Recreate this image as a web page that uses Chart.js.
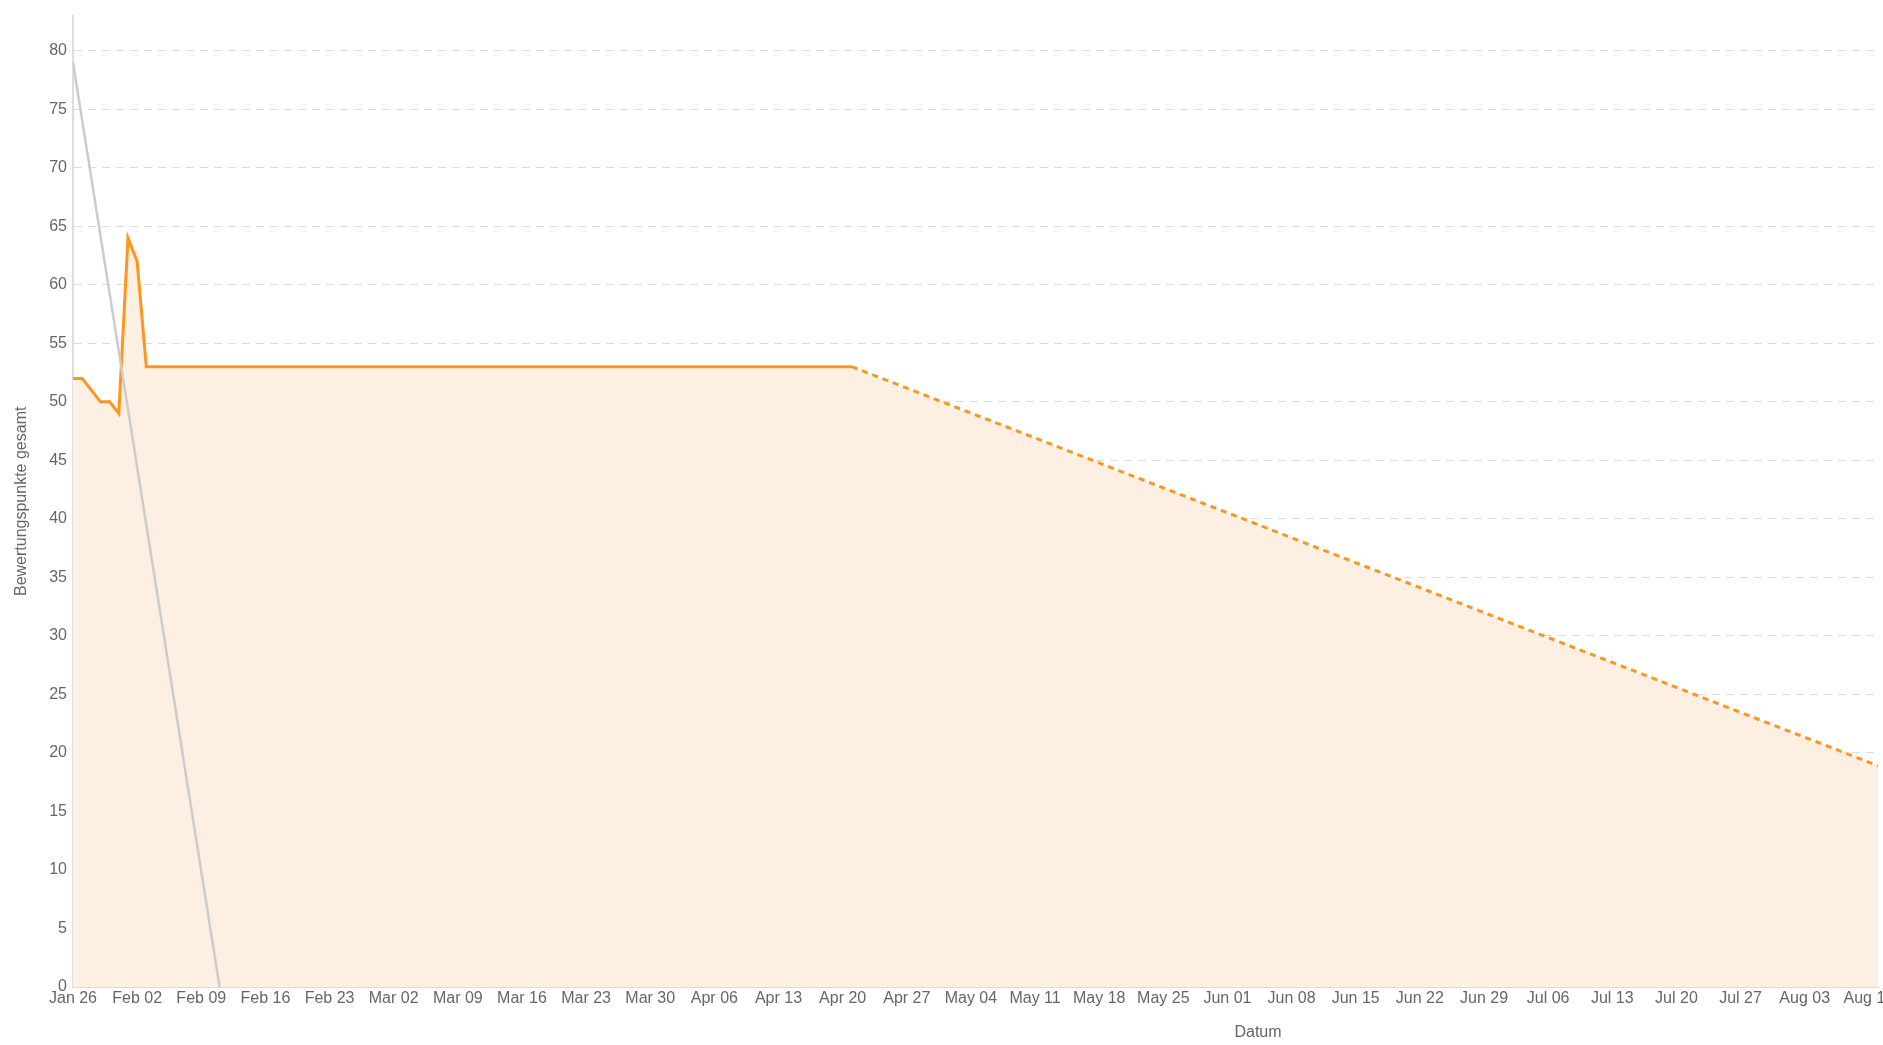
<!DOCTYPE html>
<html lang="de">
<head>
    <meta charset="UTF-8" />
    <title>Burndown</title>
    <style>
        html, body {
            margin: 0;
            padding: 0;
            background: #fff;
            overflow: hidden;
            font-family: "Liberation Sans", Arial, sans-serif;
        }

        #wrap {
            position: relative;
            width: 1920px;
            height: 1045px;
        }

        #xtitle {
            position: absolute;
            left: 1258px;
            top: 1032px;
            transform: translate(-50%, -50%);
            font-size: 16px;
            color: #666;
        }
    </style>
    <script src="https://cdn.jsdelivr.net/npm/chart.js"></script>
</head>

<body>
    <div id="wrap">
        <canvas id="chart" width="1920" height="1045"></canvas>
        <div id="xtitle">Datum</div>
    </div>

    <script>
        // days counted from Jan 26
        const weekLabels = ["Jan 26", "Feb 02", "Feb 09", "Feb 16", "Feb 23", "Mar 02", "Mar 09", "Mar 16",
            "Mar 23", "Mar 30", "Apr 06", "Apr 13", "Apr 20", "Apr 27", "May 04", "May 11", "May 18",
            "May 25", "Jun 01", "Jun 08", "Jun 15", "Jun 22", "Jun 29", "Jul 06", "Jul 13", "Jul 20",
            "Jul 27", "Aug 03", "Aug 10"];

        const actualDays = [0, 1, 2, 3, 4, 5, 6, 7, 8, 85];
        const actualPoints = [52, 52, 51, 50, 50, 49, 64, 62, 53, 53];

        const forecastDays = [85, 197];
        const forecastPoints = [53, 18.9];

        const idealDays = [0, 16];
        const idealPoints = [79, 0];

        const xMax = 197;
        const yMax = 83;

        const toXY = (days, vals) => days.map((d, i) => ({ x: d, y: vals[i] }));

        const orange = "#ff951f";
        const fillColor = "#fdf0e2";
        const textColor = "#666";
        const font = { family: "'Liberation Sans', Arial, sans-serif", size: 16 };

        // one area under actual + forecast, so there is no seam between them
        const areaData = toXY(actualDays, actualPoints).concat(toXY(forecastDays, forecastPoints).slice(1));

        new Chart(document.getElementById("chart"), {
            type: "line",
            data: {
                datasets: [
                    {
                        label: "Ideal",
                        data: toXY(idealDays, idealPoints),
                        borderColor: "#cccccc",
                        borderWidth: 2.5,
                        pointRadius: 0,
                        fill: false,
                        order: 0
                    },
                    {
                        label: "Ist",
                        data: toXY(actualDays, actualPoints),
                        borderColor: orange,
                        borderWidth: 3,
                        pointRadius: 0,
                        fill: false,
                        order: 1
                    },
                    {
                        label: "Prognose",
                        data: toXY(forecastDays, forecastPoints),
                        borderColor: orange,
                        borderWidth: 3,
                        borderDash: [6, 5],
                        pointRadius: 0,
                        fill: false,
                        order: 2
                    },
                    {
                        label: "Fläche",
                        data: areaData,
                        borderWidth: 0,
                        borderColor: "rgba(0,0,0,0)",
                        backgroundColor: fillColor,
                        pointRadius: 0,
                        fill: "origin",
                        order: 3
                    }
                ]
            },
            options: {
                responsive: false,
                animation: false,
                layout: {
                    padding: { left: 0, top: 13, right: 42, bottom: 0 }
                },
                plugins: {
                    legend: { display: false },
                    tooltip: { enabled: false }
                },
                elements: {
                    line: { tension: 0 }
                },
                scales: {
                    x: {
                        type: "linear",
                        min: 0,
                        max: xMax,
                        grid: { display: false, drawTicks: false },
                        border: { color: "#dddddd", width: 2 },
                        ticks: {
                            stepSize: 7,
                            includeBounds: false,
                            autoSkip: false,
                            maxRotation: 0,
                            padding: 2,
                            color: textColor,
                            font: font,
                            callback: v => weekLabels[v / 7] ?? ""
                        },
                        afterFit: s => { s.height = 58; }
                    },
                    y: {
                        min: 0,
                        max: yMax,
                        grid: {
                            color: "#dddddd",
                            lineWidth: 1,
                            drawTicks: false
                        },
                        border: { color: "#dddddd", width: 2, dash: [8, 6] },
                        ticks: {
                            stepSize: 5,
                            includeBounds: false,
                            padding: 6,
                            color: textColor,
                            font: font
                        },
                        title: {
                            display: true,
                            text: "Bewertungspunkte gesamt",
                            color: textColor,
                            font: font,
                            padding: { top: 12, bottom: 0 }
                        },
                        afterFit: s => { s.width = 73; }
                    }
                }
            }
        });
    </script>
</body>
</html>
